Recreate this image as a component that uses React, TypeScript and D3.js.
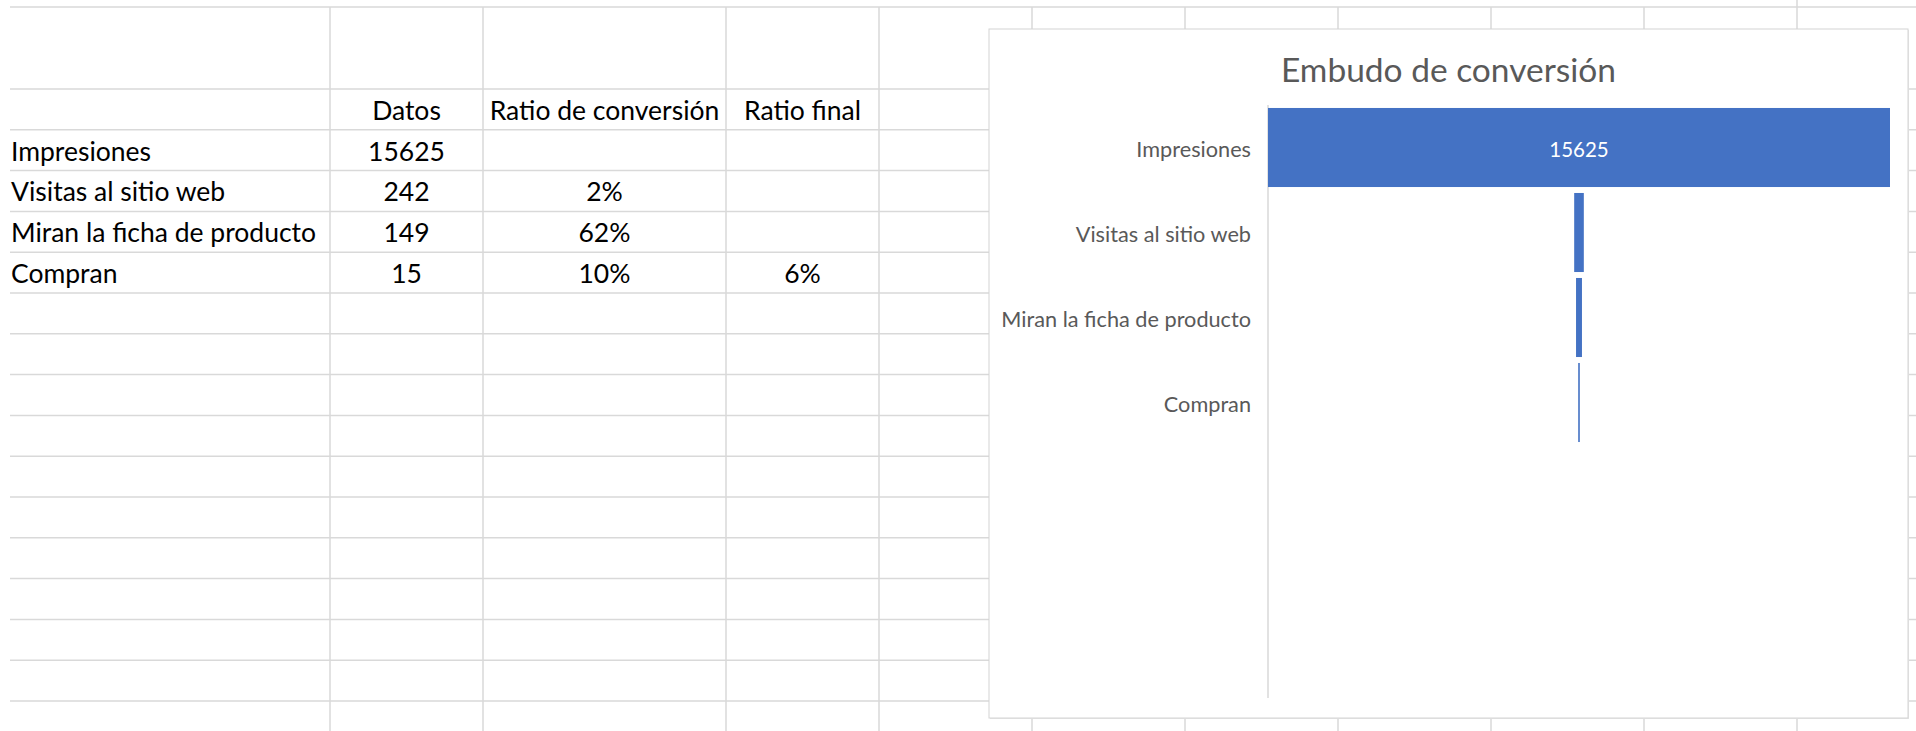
import React from 'react';
import * as d3 from 'd3';

// data
const categories = ['Impresiones', 'Visitas al sitio web', 'Miran la ficha de producto', 'Compran'];
const datos = [15625, 242, 149, 15];
const ratioConversion = ['', '2%', '62%', '10%'];
const ratioFinal = ['', '', '', '6%'];
const headers = ['Datos', 'Ratio de conversión', 'Ratio final'];
const chartTitle = 'Embudo de conversión';

const W = 1916;
const H = 731;
const FONT = "Lato, 'Open Sans', sans-serif";
const GRID = '#d9d9d9';

// spreadsheet grid
const firstRowTop = 7;
const firstRowBottom = 89;
const rowH = 40.8;
const rowLines = [firstRowTop, ...d3.range(16).map((i) => firstRowBottom + i * rowH)];
const colLines = [330, 483, 726, 879, 1032, 1185, 1338, 1491, 1644, 1797];
// cell spans for the table columns B, C, D
const tableCols = [
    [330, 483],
    [483, 726],
    [726, 879],
];

// chart frame
const chart = { x0: 989, y0: 29, x1: 1908, y1: 718 };
const axisX = 1268;
const plotRight = 1890;
const plotTop = 105;
const plotBottom = 698;
const step = 85;

const App: React.FC = () => {
    const x = d3
        .scaleLinear()
        .domain([0, d3.max(datos) as number])
        .range([0, plotRight - axisX]);
    const cx = (axisX + plotRight) / 2;

    const y = d3
        .scaleBand<string>()
        .domain(categories)
        .range([plotTop, plotTop + step * categories.length])
        .paddingInner(0.07)
        .paddingOuter(0.035);

    const rowBaseline = (r: number) => firstRowBottom + (r + 1) * rowH - 10;

    return (
        <svg
            width={W}
            height={H}
            style={{ position: 'absolute', left: 0, top: 0, background: '#fff' }}
            fontFamily={FONT}
        >
            <rect x={0} y={0} width={W} height={H} fill="#fff" />

            {/* sheet grid */}
            <g stroke={GRID} strokeWidth={1.5}>
                {rowLines.map((ry, i) => (
                    <line key={'r' + i} x1={10} x2={W} y1={ry} y2={ry} />
                ))}
                {colLines.map((cxl, i) => (
                    <line key={'c' + i} x1={cxl} x2={cxl} y1={cxl === 1797 ? 0 : firstRowTop} y2={H} />
                ))}
            </g>

            {/* table */}
            <g fontSize={26.5} fill="#000">
                {headers.map((h, i) => (
                    <text
                        key={h}
                        x={(tableCols[i][0] + tableCols[i][1]) / 2}
                        y={firstRowBottom + rowH - 10}
                        textAnchor="middle"
                    >
                        {h}
                    </text>
                ))}
                {categories.map((c, r) => (
                    <g key={c}>
                        <text x={11} y={rowBaseline(r + 1)}>
                            {c}
                        </text>
                        <text
                            x={(tableCols[0][0] + tableCols[0][1]) / 2}
                            y={rowBaseline(r + 1)}
                            textAnchor="middle"
                        >
                            {datos[r]}
                        </text>
                        <text
                            x={(tableCols[1][0] + tableCols[1][1]) / 2}
                            y={rowBaseline(r + 1)}
                            textAnchor="middle"
                        >
                            {ratioConversion[r]}
                        </text>
                        <text
                            x={(tableCols[2][0] + tableCols[2][1]) / 2}
                            y={rowBaseline(r + 1)}
                            textAnchor="middle"
                        >
                            {ratioFinal[r]}
                        </text>
                    </g>
                ))}
            </g>

            {/* chart */}
            <rect
                x={chart.x0 + 1}
                y={chart.y0 + 1}
                width={chart.x1 - chart.x0}
                height={chart.y1 - chart.y0}
                fill="#e6e6e6"
            />
            <rect
                x={chart.x0}
                y={chart.y0}
                width={chart.x1 - chart.x0}
                height={chart.y1 - chart.y0}
                fill="#fff"
                stroke="#d4d4d4"
                strokeWidth={1}
            />
            <text
                x={(chart.x0 + chart.x1) / 2}
                y={82}
                textAnchor="middle"
                fontSize={33.5}
                fill="#595959"
            >
                {chartTitle}
            </text>

            <line x1={axisX} x2={axisX} y1={plotTop} y2={plotBottom} stroke={GRID} strokeWidth={1.5} />

            {categories.map((c, i) => {
                const w = Math.max(x(datos[i]), 1.6);
                const by = y(c) as number;
                const mid = by + y.bandwidth() / 2;
                return (
                    <g key={c}>
                        <rect x={cx - w / 2} y={by} width={w} height={y.bandwidth()} fill="#4472c4" />
                        <text
                            x={axisX - 17}
                            y={mid + 9.5}
                            textAnchor="end"
                            fontSize={21.7}
                            fill="#595959"
                        >
                            {c}
                        </text>
                        {w > 60 && (
                            <text
                                x={cx}
                                y={mid + 9}
                                textAnchor="middle"
                                fontSize={20.5}
                                fill="#fff"
                            >
                                {datos[i]}
                            </text>
                        )}
                    </g>
                );
            })}
        </svg>
    );
};

export default App;
